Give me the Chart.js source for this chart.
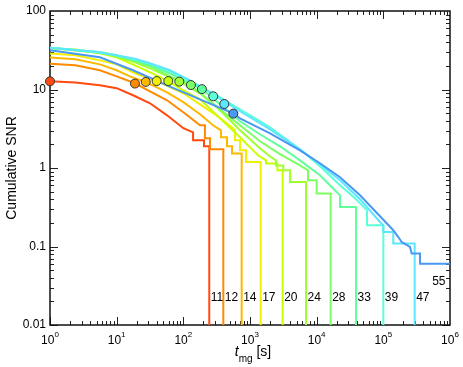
<!DOCTYPE html>
<html>
<head>
<meta charset="utf-8">
<title>Cumulative SNR</title>
<script src="https://cdn.jsdelivr.net/npm/chart.js@4.4.0/dist/chart.umd.min.js"></script>
<style>
  html, body { margin: 0; padding: 0; background: #fff; }
  #wrap { width: 463px; height: 367px; position: relative; }
</style>
</head>
<body>
<div id="wrap"><canvas id="snrChart"></canvas></div>
<script>
// cumulative SNR vs merging time, one curve per group size  [t_mg (s), SNR]
const curve11 = [[1, 12.7], [2.4, 12.3], [5.6, 11.3], [10, 10.4], [17.6, 8.44], [31.6, 6.67], [57, 4.69], [100, 3.21], [140, 2.85], [140, 2.25], [204, 2.25], [204, 1.89], [245, 1.89], [245, 0.01]];
const curve12 = [[1, 21.3], [2.4, 20.3], [5.6, 17.6], [10, 14.7], [18.8, 12.0], [31.6, 9.49], [57, 7.29], [100, 5.13], [178, 3.5], [211, 3.5], [211, 2.39], [251, 2.39], [251, 1.73], [398, 1.73], [398, 0.01]];
const curve14 = [[1, 25.5], [2.4, 24.3], [5.6, 20.9], [10, 17.6], [15.8, 14.7], [27.5, 12.4], [57, 9.21], [100, 6.9], [178, 4.83], [279, 3.5], [367, 3.02], [367, 2.46], [452, 2.46], [452, 1.89], [537, 1.89], [537, 1.53], [750, 1.53], [750, 0.01]];
const curve17 = [[1, 28.7], [2.4, 27.3], [5.6, 23.5], [10, 20.9], [18.8, 16.1], [40, 12.8], [100, 8.95], [178, 6.48], [298, 4.83], [468, 3.6], [596, 3.02], [596, 2.25], [708, 2.25], [708, 1.68], [871, 1.68], [871, 1.19], [1445, 1.19], [1445, 0.01]];
const curve20 = [[1, 33.5], [2.4, 32.3], [5.6, 28.9], [10, 25.7], [18.8, 20.3], [31.6, 16.6], [59, 12.8], [100, 9.77], [178, 7.5], [355, 4.3], [708, 2.46], [1000, 1.83], [1320, 1.45], [1740, 1.25], [1740, 1.14], [2570, 1.14], [2570, 0.935], [3090, 0.935], [3090, 0.01]];
const curve24 = [[1, 33.8], [5.6, 29.4], [10, 26.5], [18.8, 22.2], [31.6, 18.6], [86, 12.7], [178, 8.95], [355, 5.44], [708, 3.02], [1410, 1.78], [2000, 1.4], [2450, 1.25], [2450, 1.08], [3160, 1.08], [3160, 0.935], [3980, 0.935], [3980, 0.664], [6920, 0.664], [6920, 0.01]];
const curve28 = [[1, 34], [5.6, 29.4], [10, 26.9], [18.8, 22.8], [31.6, 19.8], [63, 14.7], [130, 11.3], [355, 5.6], [708, 3.5], [1410, 2.19], [2820, 1.5], [5620, 1.08], [7410, 0.935], [7410, 0.697], [10000, 0.697], [10000, 0.472], [16200, 0.472], [16200, 0.01]];
const curve33 = [[1, 34], [5.6, 29.8], [10, 27.3], [18.8, 23.5], [31.6, 20.3], [63, 16.1], [190, 10.1], [355, 6.48], [708, 3.94], [1410, 2.69], [2820, 1.89], [5620, 1.25], [11200, 0.808], [15800, 0.602], [22400, 0.449], [22400, 0.319], [38900, 0.319], [38900, 0.01]];
const curve39 = [[1, 34], [5.6, 29.8], [18.8, 24.2], [31.6, 21.2], [63, 17.1], [126, 12.7], [280, 8.95], [708, 5.6], [2000, 3.3], [5620, 1.73], [11200, 1.05], [22400, 0.602], [37600, 0.411], [56900, 0.289], [56900, 0.186], [100000, 0.186], [100000, 0.01]];
const curve47 = [[1, 34], [5.6, 29.8], [18.8, 24.6], [31.6, 21.6], [63, 17.6], [126, 13.1], [407, 7.08], [708, 5.28], [2000, 3.11], [5620, 1.73], [11200, 1.11], [22400, 0.697], [44700, 0.4], [89100, 0.205], [100000, 0.186], [100000, 0.153], [141000, 0.153], [141000, 0.109], [295000, 0.109], [295000, 0.01]];
const curve55 = [[1, 31.6], [5.6, 25.7], [17.6, 17.6], [57, 11.3], [178, 7.5], [556, 4.98], [708, 4.3], [2000, 2.77], [5620, 1.68], [11200, 1.15], [22400, 0.762], [44700, 0.449], [89100, 0.243], [141000, 0.161], [167500, 0.132], [188500, 0.114], [251000, 0.0986], [266000, 0.0812], [355000, 0.0812], [355000, 0.0605], [1000000, 0.0605]];

const curveLabels = ['11', '12', '14', '17', '20', '24', '28', '33', '39', '47', '55'];
const curveColors = ['#ff4a10', '#ff8a00', '#ffb800', '#f2f000', '#c8ff00', '#a0ff30', '#7cff60', '#60ff9c', '#5cffd8', '#5ce6ff', '#4a98f4'];
const curves = [curve11, curve12, curve14, curve17, curve20, curve24, curve28, curve33, curve39, curve47, curve55];

// circles marking each curve
const markerTimes = [1, 18.8, 27.3, 39.8, 59.5, 87, 130, 190, 281, 412, 562];
const markerSnr = [12.7, 11.9, 12.5, 12.8, 12.8, 12.6, 11.4, 10.1, 8.19, 6.54, 4.93];

// where the group-size labels sit (55 has no drop)
const label55Pos = [540000, 0.036];
const labelY = 0.022;

const yTickValues = [100, 10, 1, 0.1, 0.01];
const yTickLabels = ['100', '10', '1', '0.1', '0.01'];
const xDecades = [0, 1, 2, 3, 4, 5, 6];

const FONT = '"Liberation Sans", Arial, Helvetica, sans-serif';

const datasets = [{
    label: 'markers',
    data: markerTimes.map((t, i) => ({ x: t, y: markerSnr[i] })),
    showLine: false,
    pointRadius: 4.5,
    pointBackgroundColor: curveColors,
    pointBorderColor: '#333',
    pointBorderWidth: 1,
    order: 0,
    clip: false
}];

curves.forEach((c, i) => {
    datasets.push({
        label: curveLabels[i],
        data: c.map(p => ({ x: p[0], y: p[1] })),
        showLine: true,
        borderColor: curveColors[i],
        borderWidth: 2,
        pointRadius: 0,
        fill: false,
        tension: 0,
        order: curves.length - i
    });
});

const axisPlugin = {
    id: 'axisPlugin',
    beforeDatasetsDraw(chart) {
        const { ctx, chartArea: a, scales: { x, y } } = chart;
        ctx.save();
        ctx.strokeStyle = '#222';
        ctx.lineWidth = 1;
        ctx.beginPath();
        for (let d = 0; d < 6; d++) {
            for (let k = 1; k <= 9; k++) {
                const px = Math.round(x.getPixelForValue(k * Math.pow(10, d))) + 0.5;
                const len = k === 1 ? 8 : 4;
                ctx.moveTo(px, a.bottom); ctx.lineTo(px, a.bottom - len);
                ctx.moveTo(px, a.top); ctx.lineTo(px, a.top + len);
            }
        }
        for (let d = -2; d < 2; d++) {
            for (let k = 1; k <= 9; k++) {
                const py = Math.round(y.getPixelForValue(k * Math.pow(10, d))) + 0.5;
                const len = k === 1 ? 8 : 4;
                ctx.moveTo(a.left, py); ctx.lineTo(a.left + len, py);
                ctx.moveTo(a.right, py); ctx.lineTo(a.right - len, py);
            }
        }
        ctx.stroke();

        ctx.lineWidth = 1.5;
        ctx.strokeStyle = '#111';
        ctx.strokeRect(a.left, a.top, a.right - a.left, a.bottom - a.top);

        // tick labels
        ctx.fillStyle = '#000';
        ctx.font = '12px ' + FONT;
        ctx.textAlign = 'right';
        ctx.textBaseline = 'middle';
        yTickValues.forEach((v, i) => {
            ctx.fillText(yTickLabels[i], a.left - 4, y.getPixelForValue(v));
        });

        ctx.textAlign = 'left';
        ctx.textBaseline = 'alphabetic';
        xDecades.forEach(d => {
            const px = x.getPixelForValue(Math.pow(10, d));
            ctx.font = '12px ' + FONT;
            const wb = ctx.measureText('10').width;
            ctx.font = '8px ' + FONT;
            const ws = ctx.measureText(String(d)).width;
            const x0 = px - (wb + ws) / 2;
            ctx.font = '12px ' + FONT;
            ctx.fillText('10', x0, a.bottom + 19);
            ctx.font = '8px ' + FONT;
            ctx.fillText(String(d), x0 + wb, a.bottom + 12);
        });

        // axis titles
        ctx.save();
        ctx.font = '14px ' + FONT;
        ctx.textAlign = 'center';
        ctx.textBaseline = 'middle';
        ctx.translate(12, (a.top + a.bottom) / 2);
        ctx.rotate(-Math.PI / 2);
        ctx.fillText('Cumulative SNR', 0, 0);
        ctx.restore();

        ctx.font = 'italic 14px ' + FONT;
        const wt = ctx.measureText('t').width;
        ctx.font = '10px ' + FONT;
        const wm = ctx.measureText('mg').width;
        ctx.font = '14px ' + FONT;
        const wsec = ctx.measureText(' [s]').width;
        let tx = (a.left + a.right) / 2 + 3 - (wt + wm + wsec) / 2;
        const base = a.bottom + 31;
        ctx.textAlign = 'left';
        ctx.font = 'italic 14px ' + FONT;
        ctx.fillText('t', tx, base);
        tx += wt;
        ctx.font = '10px ' + FONT;
        ctx.fillText('mg', tx, base + 6);
        tx += wm;
        ctx.font = '14px ' + FONT;
        ctx.fillText(' [s]', tx, base);
        ctx.restore();
    },
    afterDatasetsDraw(chart) {
        const { ctx, scales: { x, y } } = chart;
        ctx.save();
        ctx.fillStyle = '#000';
        ctx.font = '12px ' + FONT;
        ctx.textAlign = 'left';
        ctx.textBaseline = 'middle';
        curves.forEach((c, i) => {
            if (i === curves.length - 1) {
                ctx.fillText(curveLabels[i], x.getPixelForValue(label55Pos[0]), y.getPixelForValue(label55Pos[1]));
                return;
            }
            const tDrop = c[c.length - 1][0];
            ctx.fillText(curveLabels[i], x.getPixelForValue(tDrop) + 1.5, y.getPixelForValue(labelY));
        });
        ctx.restore();
    }
};

new Chart(document.getElementById('snrChart'), {
    type: 'scatter',
    data: { datasets },
    options: {
        responsive: true,
        maintainAspectRatio: false,
        animation: false,
        events: [],
        layout: { padding: { left: 50, right: 13, top: 11, bottom: 42 } },
        plugins: {
            legend: { display: false },
            tooltip: { enabled: false }
        },
        scales: {
            x: { type: 'logarithmic', min: 1, max: 1e6, display: false },
            y: { type: 'logarithmic', min: 0.01, max: 100, display: false }
        }
    },
    plugins: [axisPlugin]
});
</script>
</body>
</html>
